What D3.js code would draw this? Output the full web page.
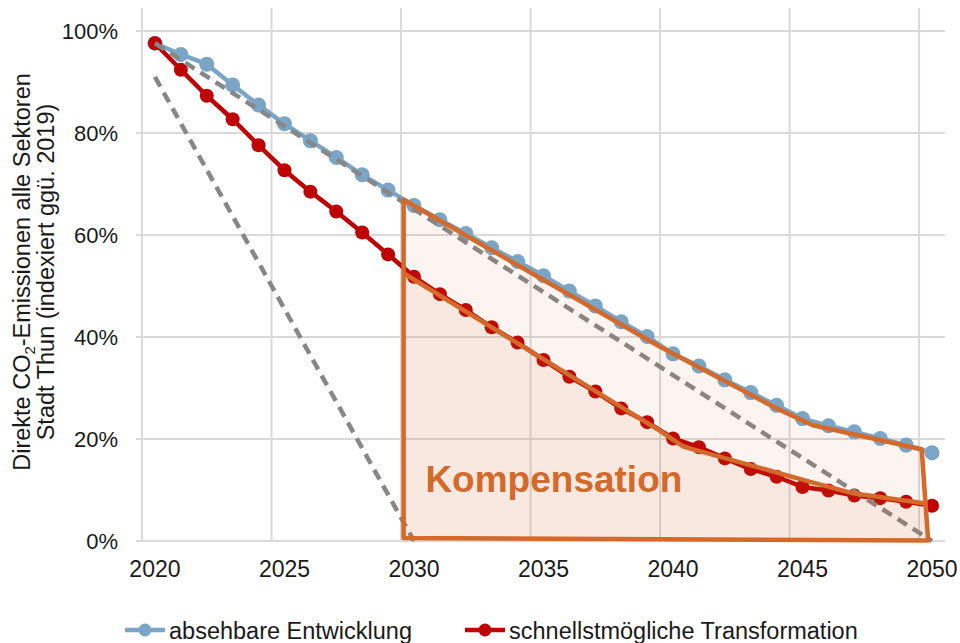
<!DOCTYPE html>
<html>
<head>
<meta charset="utf-8">
<script src="https://cdn.jsdelivr.net/npm/d3@7/dist/d3.min.js"></script>
<style>
  html, body { margin: 0; padding: 0; background: #fff; }
  svg { display: block; font-family: "Liberation Sans", Arial, sans-serif; }
</style>
</head>
<body>
<svg id="chart" width="960" height="643"></svg>
<script>
// ---------- data ----------
const years = d3.range(2020, 2051);
const absehbare = [97.6, 95.4, 93.5, 89.4, 85.5, 81.8, 78.5, 75.2, 71.8, 68.8,
                   65.8, 63.0, 60.3, 57.5, 54.8, 52.0, 49.0, 46.1, 43.0, 40.1,
                   36.7, 34.3, 31.6, 29.1, 26.6, 24.0, 22.6, 21.4, 20.1, 18.8, 17.3];
const schnellst = [97.6, 92.4, 87.3, 82.7, 77.6, 72.7, 68.5, 64.6, 60.5, 56.2,
                   51.8, 48.4, 45.3, 41.9, 38.9, 35.5, 32.2, 29.3, 26.0, 23.3,
                   20.1, 18.4, 16.2, 14.1, 12.6, 10.6, 9.9, 8.9, 8.4, 7.7, 6.9];
// linear reduction paths (dashed)
const pfad2050 = [[2020, 97.6], [2050, 0]];
const pfad2030 = [[2020, 91.0], [2030, 0]];
// hand-drawn "Kompensation" outline (year, %)
const kompOben = [[2029.6, 66.9], [2039.5, 38.1], [2044.0, 26.0], [2045.4, 22.7], [2049.6, 18.0]];
const kompUnten = [[2029.6, 52.5], [2039.5, 21.6], [2040.4, 18.5], [2045.3, 11.6], [2047.0, 9.3], [2049.7, 7.4]];
const kompBoden = [[2049.85, 0.1], [2029.6, 0.6]];
const yTicks = [0, 20, 40, 60, 80, 100];
const xTicks = [2020, 2025, 2030, 2035, 2040, 2045, 2050];
const xGrid = [2019.5, 2024.5, 2029.5, 2034.5, 2039.5, 2044.5, 2049.5];
const legendItems = ["absehbare Entwicklung", "schnellstmögliche Transformation"];

// ---------- styles ----------
const BLUE = "#7aa5c7", RED = "#c00000", GRAY = "#878787", ORANGE = "#d4692a", GRID = "#d9d9d9";

const svg = d3.select("#chart");
const x = d3.scaleLinear().domain([2019.5, 2050.5]).range([142, 945]);
const y = d3.scaleLinear().domain([0, 100]).range([541, 31]);

// gridlines
svg.append("g").selectAll("line").data(yTicks).join("line")
  .attr("x1", 136).attr("x2", 945)
  .attr("y1", d => y(d)).attr("y2", d => y(d))
  .attr("stroke", GRID).attr("stroke-width", 2);
svg.append("g").selectAll("line").data(xGrid).join("line")
  .attr("x1", d => x(d)).attr("x2", d => x(d))
  .attr("y1", 8).attr("y2", y(0))
  .attr("stroke", GRID).attr("stroke-width", 2);

// y tick labels
svg.append("g").selectAll("text").data(yTicks).join("text")
  .attr("x", 118).attr("y", d => y(d)).attr("dy", "0.36em")
  .attr("text-anchor", "end").attr("font-size", 22).attr("fill", "#1a1a1a")
  .text(d => d + "%");
// x tick labels
svg.append("g").selectAll("text").data(xTicks).join("text")
  .attr("x", d => x(d)).attr("y", 577)
  .attr("text-anchor", "middle").attr("font-size", 23).attr("fill", "#1a1a1a")
  .text(d => d);

// y title
const yt = svg.append("g").attr("transform", "translate(0,272) rotate(-90)");
const l1 = yt.append("text").attr("x", 0).attr("y", 30).attr("text-anchor", "middle")
  .attr("font-size", 23.5).attr("fill", "#1a1a1a");
l1.append("tspan").text("Direkte CO");
l1.append("tspan").attr("font-size", 15).attr("dy", 5).text("2");
l1.append("tspan").attr("dy", -5).text("-Emissionen alle Sektoren");
yt.append("text").attr("x", 0).attr("y", 54).attr("text-anchor", "middle")
  .attr("font-size", 23.5).attr("fill", "#1a1a1a")
  .text("Stadt Thun (indexiert ggü. 2019)");

// series
const line = d3.line().x(d => x(d[0])).y(d => y(d[1]));
const series = [
  { vals: absehbare, color: BLUE, r: 7.5 },
  { vals: schnellst, color: RED, r: 7 }
];
series.forEach(s => {
  const pts = years.map((yr, i) => [yr, s.vals[i]]);
  svg.append("path").datum(pts).attr("d", line)
    .attr("fill", "none").attr("stroke", s.color).attr("stroke-width", 4.5)
    .attr("stroke-linejoin", "round");
  svg.append("g").selectAll("circle").data(pts).join("circle")
    .attr("cx", d => x(d[0])).attr("cy", d => y(d[1])).attr("r", s.r)
    .attr("fill", s.color);
});

// dashed paths
[pfad2050, pfad2030].forEach(p => {
  svg.append("path").datum(p).attr("d", line)
    .attr("fill", "none").attr("stroke", GRAY).attr("stroke-width", 4.5)
    .attr("stroke-dasharray", "11,7");
});

// Kompensation
const outer = kompOben.concat(kompBoden);
const lower = kompUnten.concat(kompBoden);
const poly = d3.line().x(d => x(d[0])).y(d => y(d[1])).curve(d3.curveLinearClosed);
svg.append("path").datum(outer).attr("d", poly)
  .attr("fill", ORANGE).attr("fill-opacity", 0.07).attr("stroke", "none");
svg.append("path").datum(lower).attr("d", poly)
  .attr("fill", ORANGE).attr("fill-opacity", 0.08).attr("stroke", "none");
svg.append("path").datum(kompUnten).attr("d", line)
  .attr("fill", "none").attr("stroke", ORANGE).attr("stroke-width", 4.5)
  .attr("stroke-linejoin", "round");
svg.append("path").datum(outer).attr("d", poly)
  .attr("fill", "none").attr("stroke", ORANGE).attr("stroke-width", 4.5)
  .attr("stroke-linejoin", "round");
svg.append("text").attr("x", x(2035.4)).attr("y", 492)
  .attr("text-anchor", "middle").attr("font-size", 37).attr("font-weight", "bold")
  .attr("fill", ORANGE).text("Kompensation");

// legend
const lg = svg.append("g");
const legX = [125, 465];
legendItems.forEach((t, i) => {
  const c = series[i].color;
  const g = lg.append("g").attr("transform", `translate(${legX[i]},630)`);
  g.append("line").attr("x1", 0).attr("x2", 40).attr("y1", 0).attr("y2", 0)
    .attr("stroke", c).attr("stroke-width", 4.5);
  g.append("circle").attr("cx", 20).attr("cy", 0).attr("r", 6.5).attr("fill", c);
  g.append("text").attr("x", 44).attr("y", 9).attr("font-size", 23.5).attr("fill", "#1a1a1a")
    .text(t);
});
</script>
</body>
</html>
